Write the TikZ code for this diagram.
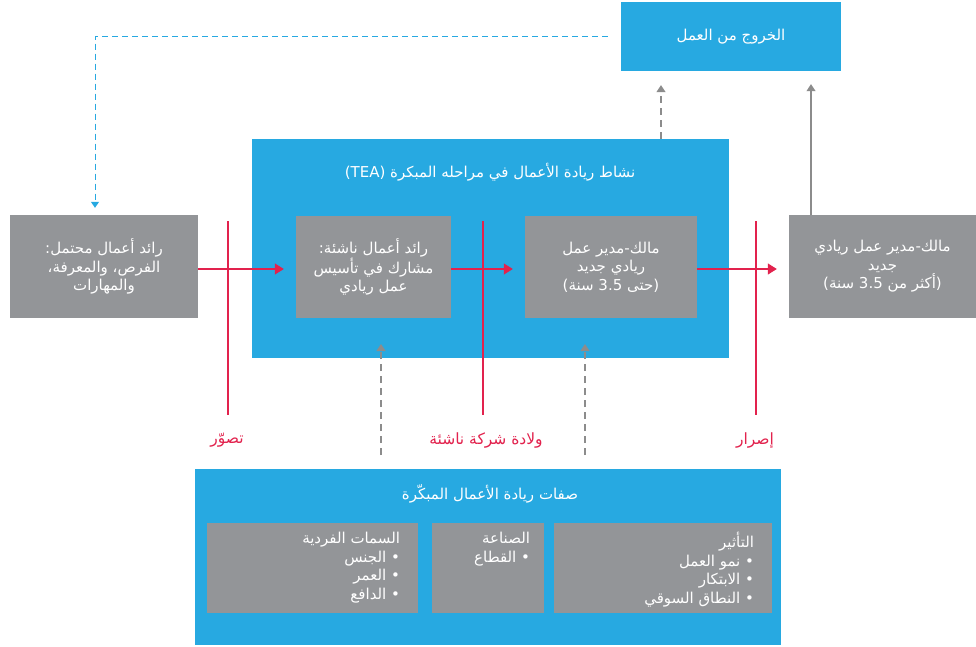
\documentclass[tikz,border=0pt]{standalone}
\usepackage{fontspec}
\TeXXeTstate=1
\newfontfamily\arabicfont[Script=Arabic]{DejaVu Sans}
\usetikzlibrary{arrows.meta}
\definecolor{gblue}{HTML}{27A9E1}
\definecolor{ggray}{HTML}{939598}
\definecolor{gred}{HTML}{E2224D}
\definecolor{garrow}{HTML}{8C8C8C}
\newcommand\AR[1]{\beginR #1\endR}
\begin{document}
\begin{tikzpicture}[x=1pt,y=-1pt,
  bluebox/.style={fill=gblue,draw=none,inner sep=0pt,text=white,align=center,
    font=\arabicfont\fontsize{15}{18.5}\selectfont},
  graybox/.style={fill=ggray,draw=none,inner sep=0pt,text=white,align=center,
    font=\arabicfont\fontsize{15}{18.5}\selectfont},
  wtext/.style={text=white,inner sep=0pt,font=\arabicfont\fontsize{15}{18.7}\selectfont},
  redlabel/.style={text=gred,inner sep=0pt,font=\arabicfont\fontsize{15.5}{18.5}\selectfont},
  redarrow/.style={draw=gred,line width=1.2pt,-{Triangle[length=9pt,width=11pt]},shorten >=12pt},
  redline/.style={draw=gred,line width=1.1pt},
  grayarrow/.style={draw=garrow,line width=1.1pt,-{Triangle[length=7pt,width=9pt]}},
  graydash/.style={grayarrow,dash pattern=on 7pt off 5pt},
  bluedash/.style={draw=gblue,line width=1pt,dash pattern=on 6pt off 4pt,-{Triangle[length=6pt,width=8pt]}}
]
\useasboundingbox (0,0) rectangle (976,647);
\fill[white] (0,0) rectangle (976,647);

% top exit box
\node[bluebox,minimum width=220pt,minimum height=69pt] (exit) at (731,36.5) {\AR{الخروج من العمل}};

% TEA box
\node[bluebox,minimum width=477pt,minimum height=219pt] (tea) at (490.5,248.5) {};
\node[wtext] (teat) at (490,172) {\AR{نشاط ريادة الأعمال في مراحله المبكرة (\beginL TEA\endL)}};

% stage boxes
\node[graybox,minimum width=188pt,minimum height=103pt] (left) at (104,266.5)
  {\AR{رائد أعمال محتمل:}\\ \AR{الفرص، والمعرفة،}\\ \AR{والمهارات}};
\node[graybox,minimum width=155pt,minimum height=102pt] (b1) at (373.5,267)
  {\AR{رائد أعمال ناشئة:}\\ \AR{مشارك في تأسيس}\\ \AR{عمل ريادي}};
\node[graybox,minimum width=172pt,minimum height=102pt] (b2) at (611,267)
  {\AR{مالك-مدير عمل}\\ \AR{ريادي جديد}\\ \AR{(حتى \beginL 3.5\endL{} سنة)}};
\node[graybox,minimum width=187pt,minimum height=103pt] (right) at (882.5,266.5)
  {\AR{مالك-مدير عمل ريادي}\\ \AR{جديد}\\ \AR{(أكثر من \beginL 3.5\endL{} سنة)}};

% bottom box
\node[bluebox,minimum width=586pt,minimum height=176pt] (bot) at (488,557) {};
\node[wtext] (bott) at (490,494) {\AR{صفات ريادة الأعمال المبكّرة}};
\node[graybox,minimum width=211pt,minimum height=90pt] (ba) at (312.5,568) {};
\node[graybox,minimum width=112pt,minimum height=90pt] (bb) at (488,568) {};
\node[graybox,minimum width=218pt,minimum height=90pt] (bc) at (663,568) {};
\node[wtext,anchor=north east,align=right] (bat) at ([xshift=-18pt,yshift=-9pt]ba.north east)
  {\AR{السمات الفردية}\\ \AR{• الجنس}\\ \AR{• العمر}\\ \AR{• الدافع}};
\node[wtext,anchor=north east,align=right] (bbt) at ([xshift=-14pt,yshift=-9pt]bb.north east)
  {\AR{الصناعة}\\ \AR{• القطاع}};
\node[wtext,anchor=north east,align=right] (bct) at ([xshift=-18pt,yshift=-9pt]bc.north east)
  {\AR{التأثير}\\ \AR{• نمو العمل}\\ \AR{• الابتكار}\\ \AR{• النطاق السوقي}};

% red flow arrows
\draw[redarrow] (left.east |- 0,269) -- (b1.west |- 0,269);
\draw[redarrow] (b1.east |- 0,269) -- (b2.west |- 0,269);
\draw[redarrow] (b2.east |- 0,269) -- (right.west |- 0,269);

% red milestone lines and labels
\node[redlabel] (l1) at (227,440) {\AR{تصوّر}};
\node[redlabel] (l2) at (486,440) {\AR{ولادة شركة ناشئة}};
\node[redlabel] (l3) at (755,440) {\AR{إصرار}};
\coordinate (v1a) at (228,221); \coordinate (v1b) at (228,415);
\coordinate (v2a) at (483,221); \coordinate (v2b) at (483,415);
\coordinate (v3a) at (756,221); \coordinate (v3b) at (756,415);
\draw[redline] (v1a) -- (v1b);
\draw[redline] (v2a) -- (v2b);
\draw[redline] (v3a) -- (v3b);

% gray dashed arrows from bottom box into TEA
\coordinate (u1) at (381,455); \coordinate (u2) at (585,455);
\draw[graydash] (u1) -- (381,344);
\draw[graydash] (u2) -- (585,344);

% arrows to exit
\coordinate (d1) at (661,139);
\draw[graydash] (d1) -- (d1 |- exit.south) [shorten >=14pt];
\coordinate (d2) at (811,215);
\draw[grayarrow,shorten >=13pt] (d2) -- (d2 |- exit.south);

% blue dashed feedback
\draw[bluedash,shorten <=13pt,shorten >=7pt] (exit.west) -| ([xshift=-9pt]left.north);
\end{tikzpicture}
\end{document}
